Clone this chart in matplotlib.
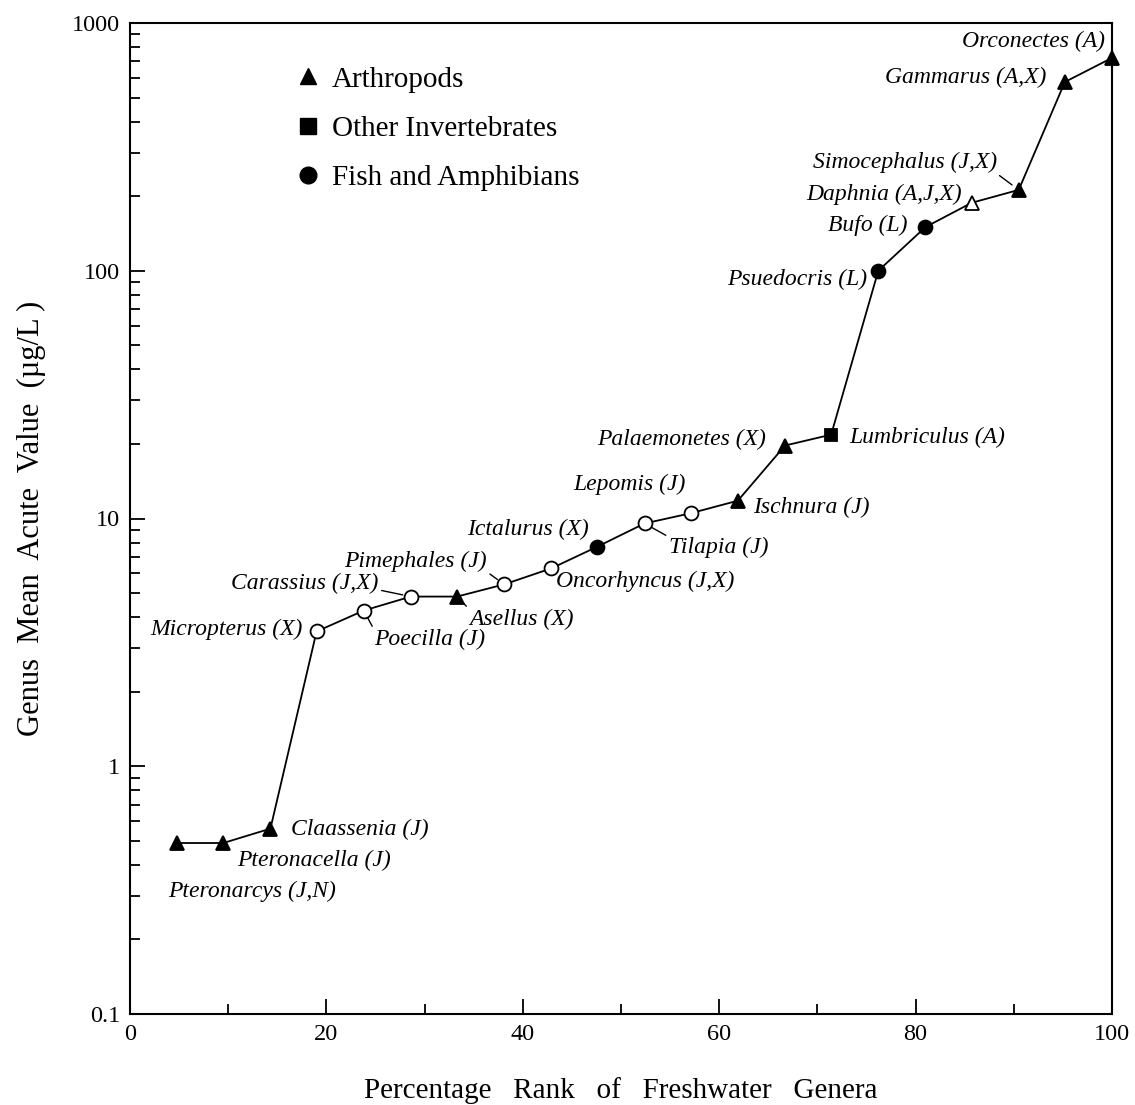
import matplotlib
matplotlib.use("Agg")
import matplotlib.pyplot as plt
from matplotlib.lines import Line2D
from matplotlib.ticker import FixedLocator, LogLocator, NullFormatter

plt.rcParams['font.family'] = ['Liberation Serif', 'DejaVu Serif']

genera = ['Pteronarcys (J,N)', 'Pteronacella (J)', 'Claassenia (J)', 'Micropterus (X)',
          'Poecilla (J)', 'Carassius (J,X)', 'Asellus (X)', 'Pimephales (J)',
          'Oncorhyncus (J,X)', 'Ictalurus (X)', 'Tilapia (J)', 'Lepomis (J)',
          'Ischnura (J)', 'Palaemonetes (X)', 'Lumbriculus (A)', 'Psuedocris (L)',
          'Bufo (L)', 'Daphnia (A,J,X)', 'Simocephalus (J,X)', 'Gammarus (A,X)',
          'Orconectes (A)']
rank = [4.8, 9.5, 14.3, 19.0, 23.8, 28.6, 33.3, 38.1, 42.9, 47.6, 52.4,
        57.1, 61.9, 66.7, 71.4, 76.2, 81.0, 85.7, 90.5, 95.2, 100.0]
gmav = [0.49, 0.49, 0.56, 3.5, 4.25, 4.84, 4.84, 5.42, 6.29, 7.7, 9.55,
        10.5, 11.8, 19.7, 21.8, 100, 150, 188, 212, 578, 723]
# A = arthropod, I = other invertebrate, F = fish / amphibian
group = ['A', 'A', 'A', 'F', 'F', 'F', 'A', 'F', 'F', 'F', 'F',
         'F', 'A', 'A', 'I', 'F', 'F', 'A', 'A', 'A', 'A']
filled = [1, 1, 1, 0, 0, 0, 1, 0, 0, 1, 0, 0, 1, 1, 1, 1, 1, 0, 1, 1, 1]

# label placement: offset in pixels from the point, horizontal alignment, leader line anchor
label_pos = [(-9, -48, 'left', None), (14, -17, 'left', None), (21, -1, 'left', None),
             (-14, 2, 'right', None), (10, -29, 'left', (0, 1)), (-32, 13, 'right', (1, 0.2)),
             (12, -23, 'left', (0, 1)), (-17, 23, 'right', (1, 0)), (5, -13, 'left', None),
             (-9, 17, 'right', None), (24, -24, 'left', (0, 1)), (-5, 29, 'right', None),
             (15, -7, 'left', None), (-19, 6, 'right', None), (18, -3, 'left', None),
             (-11, -9, 'right', None), (-18, 2, 'right', None), (-10, 8, 'right', None),
             (-22, 27, 'right', (1, 0)), (-18, 5, 'right', None), (-7, 16, 'right', None)]

markers = {'A': '^', 'I': 's', 'F': 'o'}
msizes = {'A': 10, 'I': 9, 'F': 10}

fig = plt.figure(figsize=(11.35, 11.05), dpi=100)
ax = fig.add_axes([130 / 1135, 1 - 1014 / 1105, 982 / 1135, (1014 - 23) / 1105])

ax.plot(rank, gmav, color='black', lw=1.3, zorder=2)
for i in range(len(rank)):
    g = group[i]
    ax.plot(rank[i], gmav[i], linestyle='none', marker=markers[g], ms=msizes[g],
            mfc='black' if filled[i] else 'white', mec='black', mew=1.3,
            zorder=3, clip_on=False)

for i, name in enumerate(genera):
    dx, dy, ha, rel = label_pos[i]
    kw = {}
    if rel is not None:
        kw['arrowprops'] = dict(arrowstyle='-', color='black', lw=1.0,
                                shrinkA=0, shrinkB=6, relpos=rel)
    ax.annotate(name, (rank[i], gmav[i]), xytext=(dx, dy), textcoords='offset pixels',
                ha=ha, va='center', fontsize=17, style='italic', **kw)

ax.set_yscale('log')
ax.set_xlim(0, 100)
ax.set_ylim(0.1, 1000)
ax.set_xticks([0, 20, 40, 60, 80, 100])
ax.xaxis.set_minor_locator(FixedLocator([10, 30, 50, 70, 90]))
ax.set_yticks([0.1, 1, 10, 100, 1000])
ax.set_yticklabels(['0.1', '1', '10', '100', '1000'])
ax.yaxis.set_minor_locator(LogLocator(base=10, subs=range(2, 10)))
ax.yaxis.set_minor_formatter(NullFormatter())
ax.tick_params(which='both', direction='in', top=False, right=False, labelsize=17.5, width=1.3)
ax.tick_params(which='major', length=11, pad=7)
ax.tick_params(which='minor', length=7)
for s in ax.spines.values():
    s.set_linewidth(1.5)

ax.set_xlabel('Percentage   Rank   of   Freshwater   Genera', fontsize=21)
ax.set_ylabel('Genus  Mean  Acute  Value  (µg/L )', fontsize=22)
ax.xaxis.set_label_coords(0.5, -0.064)
ax.yaxis.set_label_coords(-0.086, 0.5)

handles = [Line2D([], [], ls='none', marker='^', ms=12, color='black'),
           Line2D([], [], ls='none', marker='s', ms=11, color='black'),
           Line2D([], [], ls='none', marker='o', ms=12, color='black')]
ax.legend(handles, ['Arthropods', 'Other Invertebrates', 'Fish and Amphibians'],
          loc='upper left', bbox_to_anchor=(0.14, 0.983), frameon=False, fontsize=21,
          labelspacing=0.79, handletextpad=0.3, handlelength=1.0)

fig.savefig('out.png', dpi=100)
